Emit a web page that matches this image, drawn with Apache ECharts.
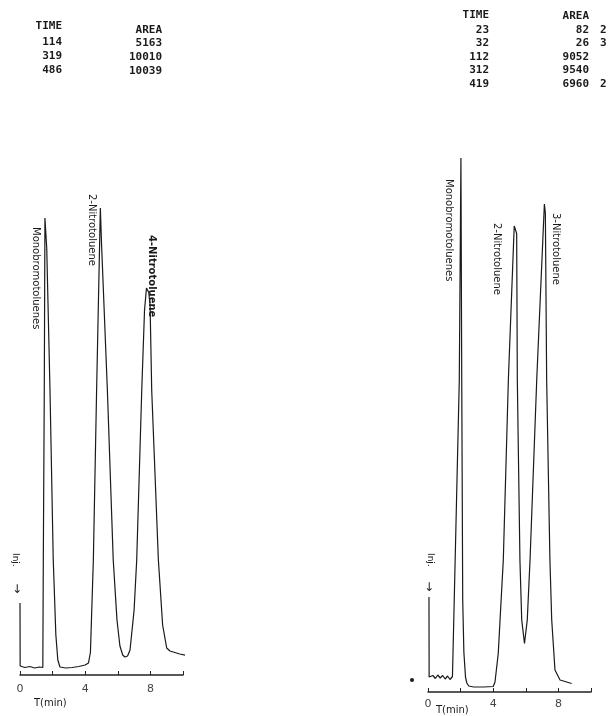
<!DOCTYPE html>
<html>
<head>
<meta charset="utf-8">
<script src="https://cdn.jsdelivr.net/npm/echarts@6/dist/echarts.min.js"></script>
<style>
  html, body { margin: 0; padding: 0; background: #fff; }
  #chart-container { width: 609px; height: 716px; }
</style>
</head>
<body>
<div id="chart-container"></div>
<script>
// detector trace of run A, [time (min), signal]
var leftTrace = [
    [0, 14.4], [0.01, 1.8], [0.3, 1.5], [0.6, 1.7], [0.9, 1.4], [1.2, 1.6], [1.40, 1.5],
    [1.43, 23], [1.49, 57], [1.53, 91.4], [1.64, 85.4], [1.84, 57], [2.04, 23], [2.2, 8],
    [2.32, 3.0], [2.45, 1.6], [2.8, 1.4], [3.2, 1.5], [3.6, 1.7], [4.0, 2.0], [4.2, 2.4],
    [4.32, 4.5], [4.5, 23], [4.7, 57], [4.93, 93.4], [5.0, 86.4], [5.36, 57], [5.72, 23],
    [5.95, 11], [6.13, 5.8], [6.3, 4.0], [6.44, 3.6], [6.6, 3.8], [6.75, 5], [7.0, 13],
    [7.16, 23], [7.47, 57], [7.64, 73], [7.76, 77.4], [7.9, 76.5], [7.98, 74], [8.08, 57],
    [8.49, 23], [8.75, 10], [9.0, 5.4], [9.2, 4.8], [9.8, 4.2], [10.6, 3.6]
];
// detector trace of run B
var rightTrace = [
    [0.06, 19], [0.07, 3], [0.3, 3.3], [0.45, 2.7], [0.6, 3.4], [0.75, 2.8], [0.9, 3.3],
    [1.05, 2.6], [1.2, 3.2], [1.35, 2.5], [1.5, 3.1], [1.56, 2.7],
    [1.61, 18.4], [1.92, 62.4], [2.02, 106.8], [2.07, 62.4], [2.13, 18.4], [2.2, 8],
    [2.3, 3], [2.38, 1.8], [2.5, 1.2], [2.8, 1.0], [3.4, 1.0], [4.0, 1.1],
    [4.11, 2], [4.31, 7.7], [4.42, 14.4], [4.62, 26.4], [4.93, 62.4], [5.29, 93.2],
    [5.44, 91.7], [5.48, 62.4], [5.64, 26.4], [5.75, 14.4], [5.92, 9.7],
    [6.09, 14.4], [6.26, 26.4], [6.67, 62.4], [7.14, 97.6], [7.2, 95.8], [7.28, 62.4],
    [7.48, 26.4], [7.59, 14.4], [7.79, 4.4], [8.1, 2.4], [8.81, 1.7]
];

var leftTimes = ['114', '319', '486'];
var leftAreas = ['5163', '10010', '10039'];
var rightTimes = ['23', '32', '112', '312', '419'];
var rightAreas = ['82', '26', '9052', '9540', '6960'];
var rightFlags = ['2', '3', '', '', '2'];

var leftPeaks = ['Monobromotoluenes', '2-Nitrotoluene', '4-Nitrotoluene'];
var rightPeaks = ['Monobromotoluenes', '2-Nitrotoluene', '3-Nitrotoluene'];

var dom = document.getElementById('chart-container');
var myChart = echarts.init(dom, null, { renderer: 'canvas' });

var mono = 'bold 11px "DejaVu Sans Mono"';
var ink = '#1a1a1a';

function txt(x, y, s, align, font, rot) {
    return {
        type: 'text', x: x, y: y, rotation: rot || 0, silent: true,
        style: {
            text: s, font: font || mono, fill: ink,
            textAlign: align || 'left', textVerticalAlign: 'middle'
        }
    };
}

var graphic = [];
// printout tables
graphic.push(txt(62, 26, 'TIME', 'right'));
graphic.push(txt(162, 30, 'AREA', 'right'));
leftTimes.forEach(function (t, i) {
    graphic.push(txt(62, 42 + i * 14, t, 'right'));
    graphic.push(txt(162, 43 + i * 14, leftAreas[i], 'right'));
});
graphic.push(txt(489, 15, 'TIME', 'right'));
graphic.push(txt(589, 16, 'AREA', 'right'));
rightTimes.forEach(function (t, i) {
    graphic.push(txt(489, 30 + i * 13.5, t, 'right'));
    graphic.push(txt(589, 30 + i * 13.5, rightAreas[i], 'right'));
    if (rightFlags[i]) graphic.push(txt(600, 30 + i * 13.5, rightFlags[i], 'left'));
});

// peak names, written down the page
var lab = '10px "DejaVu Sans"';
var rot = -Math.PI / 2;
graphic.push(txt(36, 227, leftPeaks[0], 'left', lab, rot));
graphic.push(txt(92, 194, leftPeaks[1], 'left', lab, rot));
graphic.push(txt(152, 235, leftPeaks[2], 'left', 'bold 10px "DejaVu Sans"', rot));
graphic.push(txt(449, 179, rightPeaks[0], 'left', lab, rot));
graphic.push(txt(497, 223, rightPeaks[1], 'left', lab, rot));
graphic.push(txt(556, 213, rightPeaks[2], 'left', lab, rot));

// injection marks
graphic.push(txt(15, 553, 'Inj.', 'left', '9px "DejaVu Sans"', rot));
graphic.push(txt(17, 590, '\u2193', 'center', '12px "DejaVu Sans"'));
graphic.push(txt(430, 553, 'Inj.', 'left', '9px "DejaVu Sans"', rot));
graphic.push(txt(429, 588, '\u2193', 'center', '12px "DejaVu Sans"'));

// axis titles
graphic.push(txt(34, 703, 'T(min)', 'left', '10px "DejaVu Sans"'));
graphic.push(txt(436, 710, 'T(min)', 'left', '10px "DejaVu Sans"'));

// stray speck on the scan
graphic.push({ type: 'circle', shape: { cx: 412, cy: 680, r: 2 }, style: { fill: ink }, silent: true });

function timeAxis(idx) {
    return {
        type: 'value', gridIndex: idx, min: 0, max: 10, interval: 2,
        axisLine: { lineStyle: { color: '#222', width: 1.5 } },
        axisTick: { inside: true, length: 4, lineStyle: { color: '#222' } },
        splitLine: { show: false },
        axisLabel: {
            margin: idx === 0 ? 9 : 7,
            color: '#444', fontSize: 11, fontFamily: 'DejaVu Sans',
            formatter: function (v) { return (v % 4 === 0 && v < 10) ? String(v) : ''; }
        }
    };
}

var option = {
    animation: false,
    backgroundColor: '#fff',
    grid: [
        { left: 20, width: 163, bottom: 41, height: 550 },
        { left: 428, width: 163, bottom: 24, height: 550 }
    ],
    xAxis: [timeAxis(0), timeAxis(1)],
    yAxis: [
        { type: 'value', gridIndex: 0, min: 0, max: 110, show: false },
        { type: 'value', gridIndex: 1, min: 0, max: 110, show: false }
    ],
    series: [
        {
            type: 'line', xAxisIndex: 0, yAxisIndex: 0, data: leftTrace,
            showSymbol: false, clip: false,
            lineStyle: { color: ink, width: 1.2 }
        },
        {
            type: 'line', xAxisIndex: 1, yAxisIndex: 1, data: rightTrace,
            showSymbol: false, clip: false,
            lineStyle: { color: ink, width: 1.2 }
        }
    ],
    graphic: graphic
};

myChart.setOption(option);
window.addEventListener('resize', myChart.resize);
</script>
</body>
</html>
